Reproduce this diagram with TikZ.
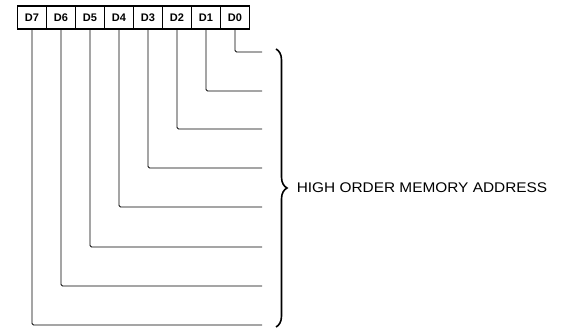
\documentclass[tikz,border=0pt]{standalone}
\usepackage{fontspec}
\setmainfont{Liberation Sans}
\usetikzlibrary{positioning,decorations.pathreplacing}
\tikzset{
    every node/.append style={align=center},
    bit/.style={rectangle,draw=black,line width=1.1pt,minimum width=29pt,
        minimum height=23pt,inner sep=0pt,font=\fontsize{11}{11}\selectfont\bfseries},
    wire/.style={line width=0.9pt,rounded corners=1.5pt},
    brc/.style={decorate,decoration={brace,amplitude=11pt},line width=1.6pt},
    lbl/.style={font=\fontsize{14}{14}\selectfont,inner sep=0pt}
}
\begin{document}
\begin{tikzpicture}[x=1pt,y=-1pt]
    \useasboundingbox (0,0) rectangle (563,328);
    % data register bits
    \node[bit] (d7) at ( 32,17.5) {D7};
    \node[bit] (d6) at ( 61,17.5) {D6};
    \node[bit] (d5) at ( 90,17.5) {D5};
    \node[bit] (d4) at (119,17.5) {D4};
    \node[bit] (d3) at (148,17.5) {D3};
    \node[bit] (d2) at (177,17.5) {D2};
    \node[bit] (d1) at (206,17.5) {D1};
    \node[bit] (d0) at (235,17.5) {D0};
    % wire ends in front of the brace
    \coordinate (w0) at (262, 52);
    \coordinate (w1) at (262, 91);
    \coordinate (w2) at (262,129);
    \coordinate (w3) at (262,168);
    \coordinate (w4) at (262,207);
    \coordinate (w5) at (262,247);
    \coordinate (w6) at (262,286);
    \coordinate (w7) at (262,325);
    \coordinate (btop) at (276, 49);
    \coordinate (bbot) at (276,327);

    \draw[wire] (d0.south) |- (w0);
    \draw[wire] (d1.south) |- (w1);
    \draw[wire] (d2.south) |- (w2);
    \draw[wire] (d3.south) |- (w3);
    \draw[wire] (d4.south) |- (w4);
    \draw[wire] (d5.south) |- (w5);
    \draw[wire] (d6.south) |- (w6);
    \draw[wire] (d7.south) |- (w7);
    \draw[brc] (btop) -- node[lbl,anchor=west,xshift=20pt] (addr)
        {\scalebox{1.1}[1]{HIGH ORDER MEMORY ADDRESS}} (bbot);
\end{tikzpicture}
\end{document}
